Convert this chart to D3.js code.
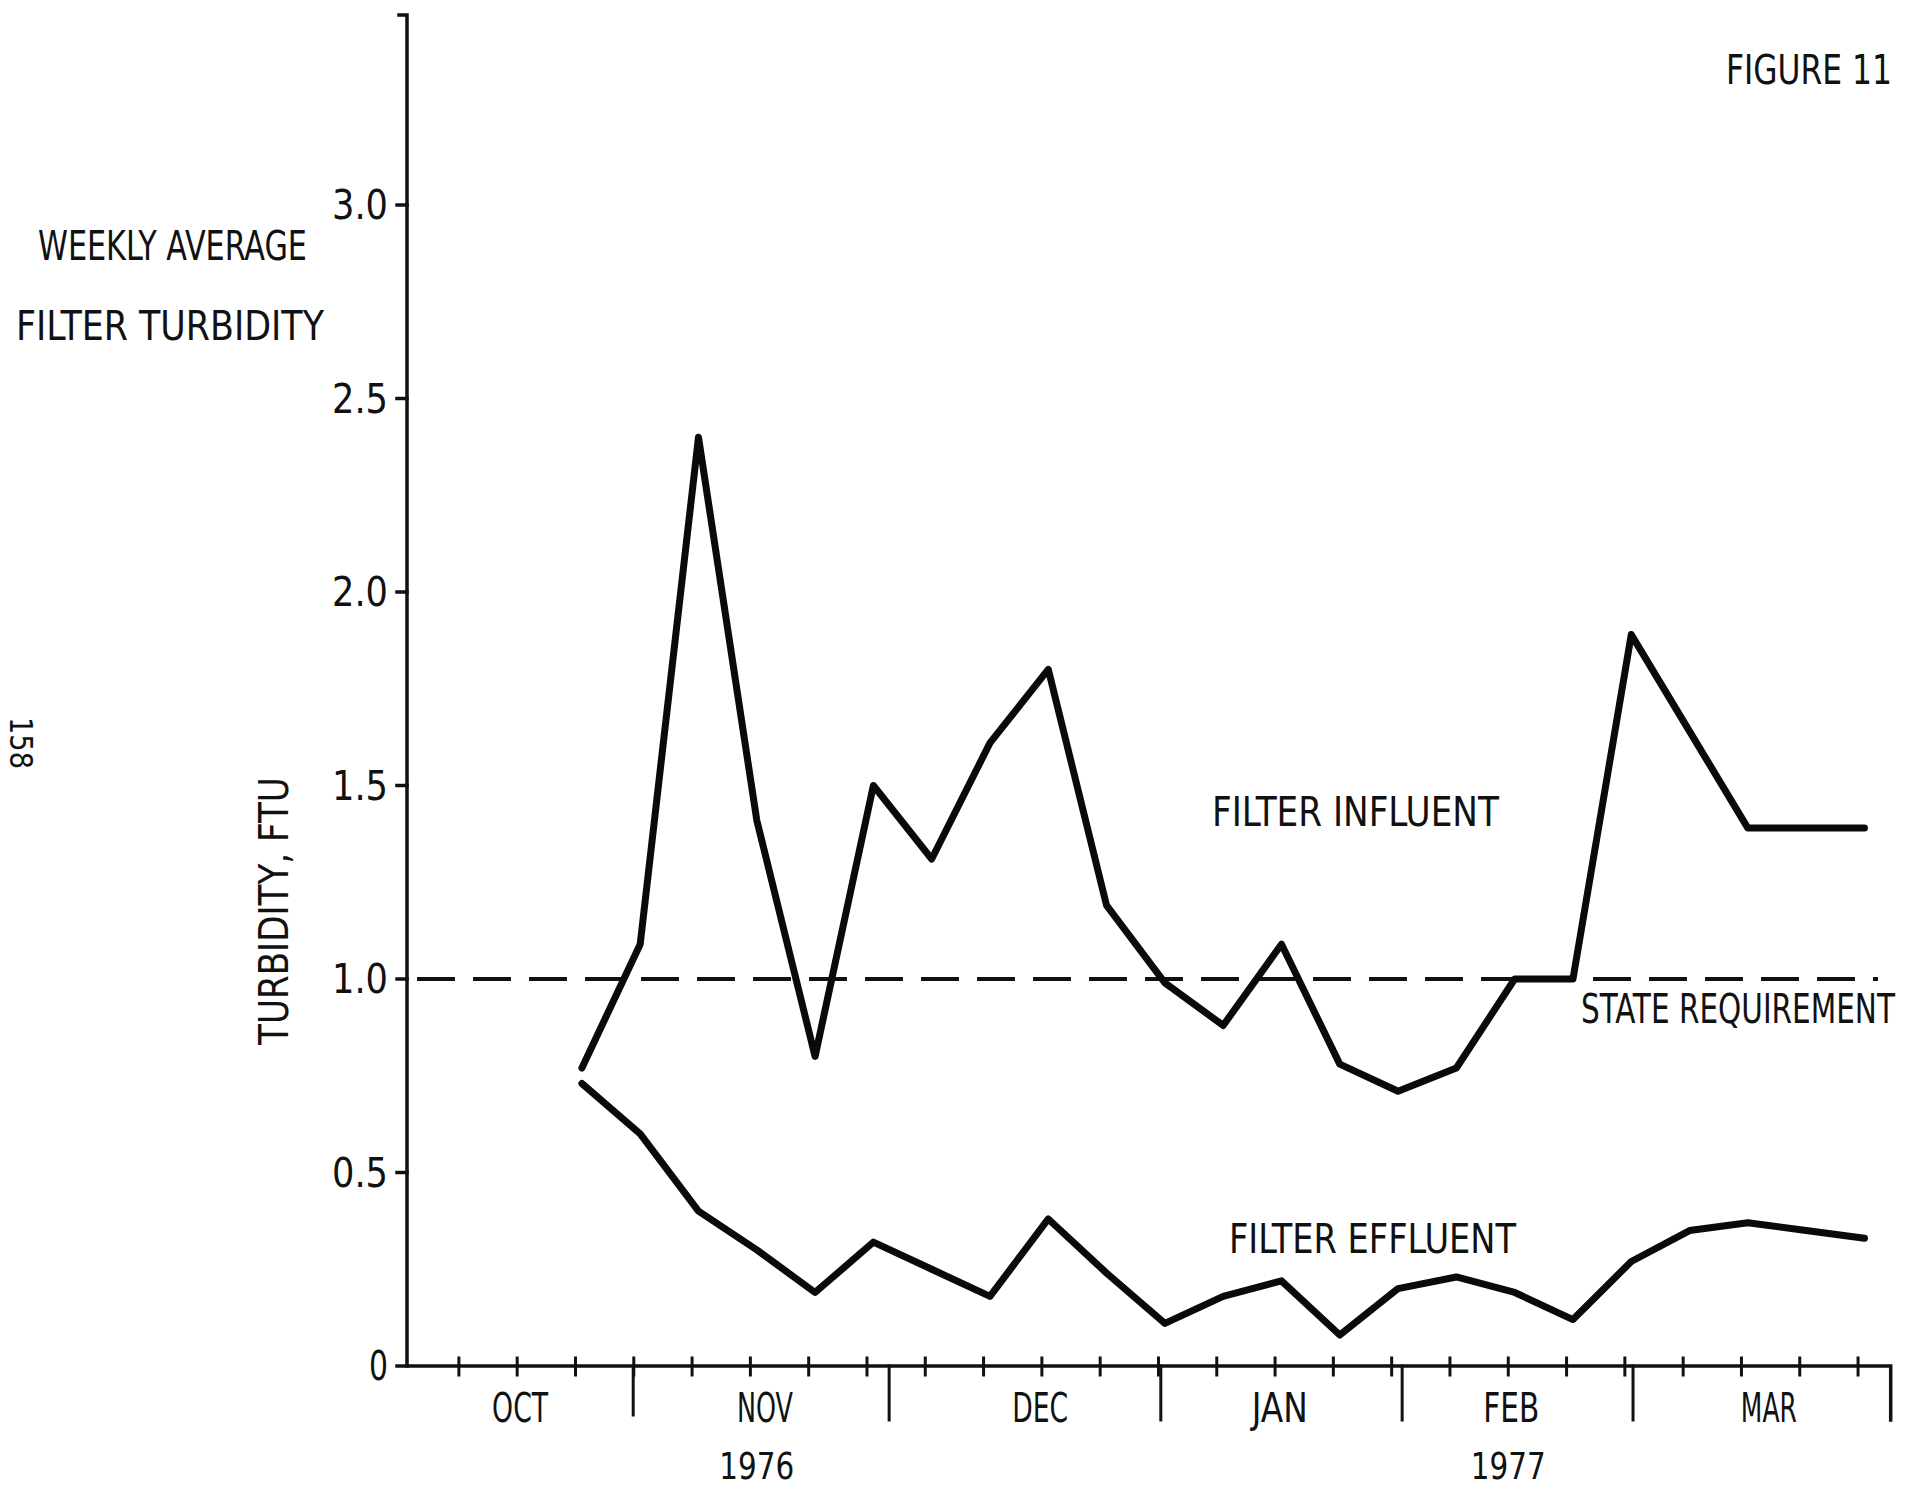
<!DOCTYPE html>
<html>
<head>
<meta charset="utf-8">
<script src="https://cdn.jsdelivr.net/npm/d3@7"></script>
<style>
  html, body { margin: 0; background: #fff; }
  text { font-family: "DejaVu Sans", "Liberation Sans", sans-serif; font-stretch: condensed; fill: #111; }
</style>
</head>
<body>
<svg id="chart" width="1909" height="1490"></svg>
<script>
// Weekly average turbidity (FTU), weeks counted from the start of the time axis
const weeks = d3.range(3, 26);
const influent = [0.77, 1.09, 2.40, 1.41, 0.80, 1.50, 1.31, 1.61, 1.80, 1.19, 0.99, 0.88,
                  1.09, 0.78, 0.71, 0.77, 1.00, 1.00, 1.89, 1.64, 1.39, 1.39, 1.39];
const effluent = [0.73, 0.60, 0.40, 0.30, 0.19, 0.32, 0.25, 0.18, 0.38, 0.24, 0.11, 0.18,
                  0.22, 0.08, 0.20, 0.23, 0.19, 0.12, 0.27, 0.35, 0.37, 0.35, 0.33];
const stateRequirement = 1.0;

// Axis marks
const yTicks = [0, 0.5, 1.0, 1.5, 2.0, 2.5, 3.0];
const yTickLabels = ["0", "0.5", "1.0", "1.5", "2.0", "2.5", "3.0"];
const weekMarks = d3.range(1, 26).map(k => k - 0.11);      // weekly tick marks
const monthBounds = [3.88, 8.27, 12.93, 17.07, 21.03, 25.45]; // month dividers (in weeks)
const monthNames = ["OCT", "NOV", "DEC", "JAN", "FEB", "MAR"];
const monthCenters = [1.94, 6.14, 10.86, 14.97, 18.94, 23.36];
const yearNames = ["1976", "1977"];
const yearCenters = [6.0, 18.89];

const svg = d3.select("#chart");
const x = d3.scaleLinear().domain([0, 25.45]).range([407, 1890.7]);
const y = d3.scaleLinear().domain([0, 3]).range([1366, 205]);
const x0 = x(0), y0 = y(0), axisTop = 15;

// Lettering is narrow: squeeze each label horizontally to a given width.
// anchor: 0 = start, 0.5 = middle, 1 = end; rot rotates about the anchor point.
function label(parent, str, px, py, width, size, anchor = 0, rot = 0) {
  const t = parent.append("text").attr("font-size", size).text(str);
  const natural = t.node().getComputedTextLength();
  const sx = width ? width / natural : 1;
  t.attr("x", -natural * anchor).attr("y", 0)
   .attr("transform", `translate(${px},${py}) rotate(${rot}) scale(${sx},1)`);
  return t;
}

// Axes frame
const frame = svg.append("g").attr("stroke", "#111").attr("stroke-width", 3.5)
  .attr("fill", "none").attr("stroke-linecap", "square");
frame.append("path").attr("d", `M${x0 - 8},${axisTop} H${x0} V${y0} H${x(25.45)} V${y0 + 54}`);

// Y ticks and labels
frame.selectAll(".yt").data(yTicks).join("line")
  .attr("x1", x0 - 10).attr("x2", x0).attr("y1", d => y(d)).attr("y2", d => y(d));
const gy = svg.append("g");
yTicks.forEach((v, i) => {
  const s = yTickLabels[i];
  label(gy, s, x0 - 19, y(v) + 14, s.length > 1 ? 56 : 19, 40, 1);
});

// Weekly ticks crossing the time axis
frame.selectAll(".wt").data(weekMarks).join("line")
  .attr("stroke-width", 3)
  .attr("x1", d => x(d)).attr("x2", d => x(d)).attr("y1", y0 - 8).attr("y2", y0 + 9);

// Month dividers
frame.selectAll(".mt").data(monthBounds.slice(0, -1)).join("line")
  .attr("stroke-width", 3)
  .attr("x1", d => x(d)).attr("x2", d => x(d)).attr("y1", y0).attr("y2", (d, i) => y0 + (i === 0 ? 49 : 54));

// Month and year labels
const gx = svg.append("g");
monthNames.forEach((m, i) => label(gx, m, x(monthCenters[i]), 1422, 56, 40, 0.5));
yearNames.forEach((yr, i) => label(gx, yr, x(yearCenters[i]), 1479, 75, 38, 0.5));

// State requirement (dashed)
svg.append("line")
  .attr("x1", x0 + 10).attr("x2", 1878)
  .attr("y1", y(stateRequirement)).attr("y2", y(stateRequirement))
  .attr("stroke", "#111").attr("stroke-width", 4)
  .attr("stroke-dasharray", "38,18");

// Series lines
const line = d3.line().x(d => x(d[0])).y(d => y(d[1]));
[influent, effluent].forEach(series => {
  svg.append("path")
    .datum(weeks.map((w, i) => [w, series[i]]))
    .attr("d", line)
    .attr("fill", "none").attr("stroke", "#0a0a0a")
    .attr("stroke-width", 7)
    .attr("stroke-linejoin", "round").attr("stroke-linecap", "round");
});

// Annotations
const notes = [
  { t: "FIGURE 11", x: 1726, y: 84, w: 166 },
  { t: "WEEKLY AVERAGE", x: 38, y: 260, w: 269 },
  { t: "FILTER TURBIDITY", x: 16, y: 340, w: 308 },
  { t: "FILTER INFLUENT", x: 1212, y: 826, w: 287 },
  { t: "STATE REQUIREMENT", x: 1581, y: 1023, w: 314 },
  { t: "FILTER EFFLUENT", x: 1229, y: 1253, w: 287 }
];
const gn = svg.append("g");
notes.forEach(n => label(gn, n.t, n.x, n.y, n.w, 40));

// Y axis title
label(svg, "TURBIDITY, FTU", 288, 911, 268, 40, 0.5, -90);

// Page number
label(svg, "158", 10, 743, 52, 32, 0.5, 90);
</script>
</body>
</html>
